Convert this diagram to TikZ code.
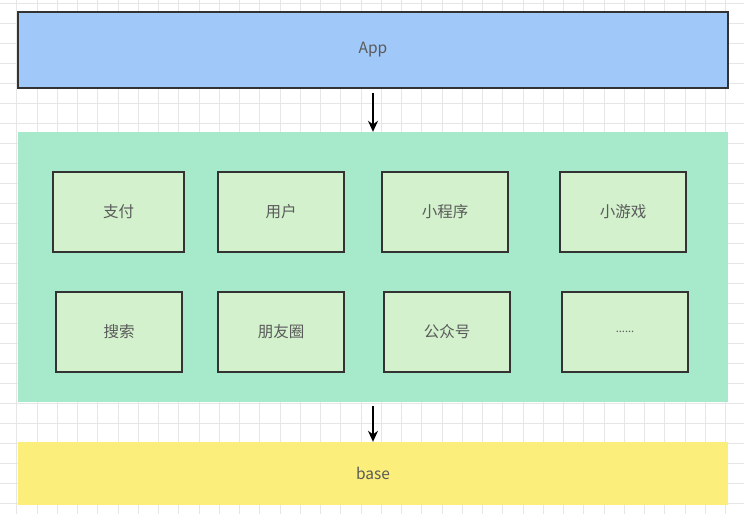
\documentclass[tikz,border=0pt]{standalone}
\usepackage{fontspec}
\setmainfont{Noto Sans CJK SC}
\usetikzlibrary{positioning, arrows.meta}

\definecolor{appblue}{HTML}{A0C8F8}
\definecolor{panelgreen}{HTML}{A7E9CB}
\definecolor{modgreen}{HTML}{D2F1CC}
\definecolor{baseyellow}{HTML}{FCEE7A}
\definecolor{gridgray}{HTML}{E6E6E6}
\definecolor{textgray}{HTML}{5A5A5A}

\begin{document}
\begin{tikzpicture}[x=1pt, y=-1pt,
    every node/.style = {font=\fontsize{15.5}{18}\selectfont, text=textgray},
    layer/.style = {minimum width=710pt, inner sep=0pt},
    module/.style = {draw=black!80, line width=1.6pt, fill=modgreen,
                     minimum width=128pt, minimum height=80pt, inner sep=0pt},
    flow/.style = {line width=1.6pt, -{Stealth[length=11pt, width=10pt]}}]

    \useasboundingbox (0,0) rectangle (744,514);
    \fill[white] (0,0) rectangle (744,514);

    % background grid
    \foreach \x in {0,...,37} {
        \draw[gridgray, line width=0.8pt] (-3.5+20.25*\x, 0) -- (-3.5+20.25*\x, 514);
    }
    \foreach \y in {0,...,26} {
        \draw[gridgray, line width=0.8pt] (0, 3+20*\y) -- (744, 3+20*\y);
    }

    {
        \node[layer, draw=black!80, line width=1.6pt, fill=appblue, minimum height=76pt] (app) at (373, 50) {App};
        \node[layer, fill=panelgreen, minimum height=270pt] (core) at (373, 267) {};
        \node[layer, fill=baseyellow, minimum height=63pt] (base) at (373, 473.5) {base};
    }

    % business modules
    \node[module, minimum width=131pt] (pay) at (118.5, 212) {支付};
    \node[module, minimum width=126pt] (user) at (281, 212) {用户};
    \node[module, minimum width=126pt] (mini) at (445, 212) {小程序};
    \node[module, minimum width=126pt] (game) at (623, 212) {小游戏};

    \node[module, minimum width=126pt] (search) at (119, 332) {搜索};
    \node[module, minimum width=126pt] (moments) at (281, 332) {朋友圈};
    \node[module, minimum width=126pt] (official) at (447, 332) {公众号};
    \node[module, minimum width=126pt, font=\fontsize{11}{13}\selectfont] (more) at (625, 332) {......};

    \draw[flow] (app.south) ++(0,4) coordinate (a1) (a1) -- (a1 |- core.north);
    \draw[flow] (core.south) ++(0,4) coordinate (c1) (c1) -- (c1 |- base.north);

\end{tikzpicture}
\end{document}
